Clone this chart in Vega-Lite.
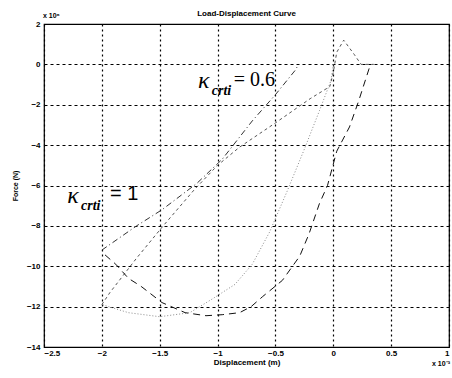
{
  "$schema": "https://vega.github.io/schema/vega-lite/v6.json",
  "width": 405,
  "height": 323,
  "autosize": {"type": "none"},
  "padding": {"left": 44, "top": 24, "right": 3, "bottom": 31},
  "background": "white",
  "config": {
    "view": {"stroke": "black", "strokeWidth": 1.2},
    "font": "Liberation Sans"
  },
  "title": {"text": "Load-Displacement Curve", "fontSize": 8, "fontWeight": "bold", "font": "Liberation Sans", "offset": 6, "dy": 12, "color": "black"},
  "datasets": {
    "one": [{"k": 1}],
    "curves": [
      {"s": "a", "i": 0, "x": 0.0, "y": 0.0},
      {"s": "a", "i": 1, "x": -0.02, "y": -0.8},
      {"s": "a", "i": 2, "x": -0.12, "y": -2.3},
      {"s": "a", "i": 3, "x": -0.25, "y": -4.2},
      {"s": "a", "i": 4, "x": -0.4, "y": -6.3},
      {"s": "a", "i": 5, "x": -0.55, "y": -8.3},
      {"s": "a", "i": 6, "x": -0.7, "y": -9.9},
      {"s": "a", "i": 7, "x": -0.85, "y": -10.9},
      {"s": "a", "i": 8, "x": -1.04, "y": -11.6},
      {"s": "a", "i": 9, "x": -1.24, "y": -12.3},
      {"s": "a", "i": 10, "x": -1.5, "y": -12.5},
      {"s": "a", "i": 11, "x": -1.77, "y": -12.3},
      {"s": "a", "i": 12, "x": -2.0, "y": -11.9},
      {"s": "b", "i": 0, "x": -2.0, "y": -11.9},
      {"s": "b", "i": 1, "x": -1.93, "y": -11.3},
      {"s": "b", "i": 2, "x": -1.7, "y": -9.6},
      {"s": "b", "i": 3, "x": -1.47, "y": -8.0},
      {"s": "b", "i": 4, "x": -1.2, "y": -6.2},
      {"s": "b", "i": 5, "x": -1.0, "y": -5.0},
      {"s": "b", "i": 6, "x": -0.81, "y": -4.1},
      {"s": "b", "i": 7, "x": -0.5, "y": -2.9},
      {"s": "b", "i": 8, "x": -0.2, "y": -1.7},
      {"s": "b", "i": 9, "x": -0.03, "y": -1.1},
      {"s": "b", "i": 10, "x": 0.0, "y": -0.4},
      {"s": "b", "i": 11, "x": 0.03, "y": 0.6},
      {"s": "b", "i": 12, "x": 0.09, "y": 1.2},
      {"s": "b", "i": 13, "x": 0.18, "y": 0.5},
      {"s": "b", "i": 14, "x": 0.24, "y": 0.0},
      {"s": "b", "i": 15, "x": 0.35, "y": 0.0},
      {"s": "c", "i": 0, "x": 0.31, "y": -0.2},
      {"s": "c", "i": 1, "x": 0.22, "y": -1.8},
      {"s": "c", "i": 2, "x": 0.14, "y": -3.1},
      {"s": "c", "i": 3, "x": 0.03, "y": -4.3},
      {"s": "c", "i": 4, "x": -0.05, "y": -6.0},
      {"s": "c", "i": 5, "x": -0.12, "y": -6.9},
      {"s": "c", "i": 6, "x": -0.21, "y": -8.4},
      {"s": "c", "i": 7, "x": -0.29, "y": -9.5},
      {"s": "c", "i": 8, "x": -0.44, "y": -10.7},
      {"s": "c", "i": 9, "x": -0.61, "y": -11.5},
      {"s": "c", "i": 10, "x": -0.71, "y": -12.0},
      {"s": "c", "i": 11, "x": -0.81, "y": -12.3},
      {"s": "c", "i": 12, "x": -0.96, "y": -12.4},
      {"s": "c", "i": 13, "x": -1.1, "y": -12.45},
      {"s": "c", "i": 14, "x": -1.28, "y": -12.3},
      {"s": "c", "i": 15, "x": -1.48, "y": -11.8},
      {"s": "c", "i": 16, "x": -1.66, "y": -11.0},
      {"s": "c", "i": 17, "x": -1.77, "y": -10.6},
      {"s": "c", "i": 18, "x": -1.88, "y": -9.9},
      {"s": "c", "i": 19, "x": -2.0, "y": -9.3},
      {"s": "d", "i": 0, "x": -2.0, "y": -9.2},
      {"s": "d", "i": 1, "x": -1.7, "y": -8.0},
      {"s": "d", "i": 2, "x": -1.48, "y": -7.2},
      {"s": "d", "i": 3, "x": -1.18, "y": -5.9},
      {"s": "d", "i": 4, "x": -0.96, "y": -4.7},
      {"s": "d", "i": 5, "x": -0.7, "y": -2.8},
      {"s": "d", "i": 6, "x": -0.5, "y": -1.5},
      {"s": "d", "i": 7, "x": -0.33, "y": -0.3},
      {"s": "d", "i": 8, "x": -0.3, "y": 0.0}
    ]
  },
  "layer": [
    {
      "data": {"name": "curves"},
      "mark": {"type": "line", "clip": true},
      "encoding": {
        "x": {
          "field": "x", "type": "quantitative",
          "scale": {"domain": [-2.5, 1], "nice": false, "zero": false},
          "axis": {
            "title": "Displacement (m)", "values": [-2.5, -2, -1.5, -1, -0.5, 0, 0.5, 1], "format": "~g",
            "grid": true, "gridColor": "black", "gridDash": [2, 3], "gridWidth": 1.2, "gridOpacity": 1,
            "ticks": false, "domain": false,
            "labelFontSize": 8, "labelFontWeight": "bold", "labelColor": "black", "labelPadding": 2,
            "titleFontSize": 8, "titleFontWeight": "bold", "titleColor": "black", "titlePadding": 1
          }
        },
        "y": {
          "field": "y", "type": "quantitative",
          "scale": {"domain": [-14, 2], "nice": false, "zero": false},
          "axis": {
            "title": "Force (N)", "values": [-14, -12, -10, -8, -6, -4, -2, 0, 2],
            "grid": true, "gridColor": "black", "gridDash": [3, 3], "gridWidth": 1.2, "gridOpacity": 1,
            "ticks": false, "domain": false,
            "labelFontSize": 8, "labelFontWeight": "bold", "labelColor": "black", "labelPadding": 4,
            "titleFontSize": 7, "titleFontWeight": "bold", "titleColor": "black", "titlePadding": 8
          }
        },
        "color": {"field": "s", "type": "nominal", "legend": null,
          "scale": {"domain": ["a", "b", "c", "d"], "range": ["#8a8a8a", "#555555", "#111111", "#333333"]}},
        "strokeDash": {"field": "s", "type": "nominal", "legend": null,
          "scale": {"domain": ["a", "b", "c", "d"], "range": [[1, 2], [3, 3], [7, 5], [6, 3, 1, 3]]}},
        "strokeWidth": {"field": "s", "type": "nominal", "legend": null,
          "scale": {"domain": ["a", "b", "c", "d"], "range": [1, 1, 1.5, 1]}},
        "order": {"field": "i", "type": "quantitative"}
      }
    },
    {
      "data": {"name": "one"},
      "mark": {"type": "text", "font": "Liberation Serif", "fontStyle": "italic", "fontSize": 24, "align": "center", "baseline": "middle", "color": "black"},
      "encoding": {"x": {"datum": -1.12}, "y": {"datum": -0.8}, "text": {"value": "κ"}}
    },
    {
      "data": {"name": "one"},
      "mark": {"type": "text", "font": "Liberation Serif", "fontStyle": "italic", "fontWeight": "bold", "fontSize": 14, "align": "left", "baseline": "middle", "color": "black"},
      "encoding": {"x": {"datum": -1.05}, "y": {"datum": -1.3}, "text": {"value": "crti"}}
    },
    {
      "data": {"name": "one"},
      "mark": {"type": "text", "font": "Liberation Serif", "fontSize": 20, "align": "left", "baseline": "middle", "color": "black"},
      "encoding": {"x": {"datum": -0.86}, "y": {"datum": -0.75}, "text": {"value": "= 0.6"}}
    },
    {
      "data": {"name": "one"},
      "mark": {"type": "text", "font": "Liberation Serif", "fontStyle": "italic", "fontSize": 24, "align": "center", "baseline": "middle", "color": "black"},
      "encoding": {"x": {"datum": -2.25}, "y": {"datum": -6.5}, "text": {"value": "κ"}}
    },
    {
      "data": {"name": "one"},
      "mark": {"type": "text", "font": "Liberation Serif", "fontStyle": "italic", "fontWeight": "bold", "fontSize": 14, "align": "left", "baseline": "middle", "color": "black"},
      "encoding": {"x": {"datum": -2.18}, "y": {"datum": -7.0}, "text": {"value": "crti"}}
    },
    {
      "data": {"name": "one"},
      "mark": {"type": "text", "font": "Liberation Sans", "fontSize": 20, "align": "left", "baseline": "middle", "color": "black"},
      "encoding": {"x": {"datum": -1.93}, "y": {"datum": -6.4}, "text": {"value": "= 1"}}
    },
    {
      "data": {"name": "one"},
      "mark": {"type": "text", "font": "Liberation Sans", "fontSize": 7, "fontWeight": "bold", "align": "left", "baseline": "bottom", "dx": -1, "dy": -5, "color": "black"},
      "encoding": {"x": {"datum": -2.5}, "y": {"datum": 2}, "text": {"value": "x 10⁶"}}
    },
    {
      "data": {"name": "one"},
      "mark": {"type": "text", "font": "Liberation Sans", "fontSize": 7, "fontWeight": "bold", "align": "right", "baseline": "top", "dx": 1, "dy": 13, "color": "black"},
      "encoding": {"x": {"datum": 1}, "y": {"datum": -14}, "text": {"value": "x 10⁻³"}}
    }
  ]
}
